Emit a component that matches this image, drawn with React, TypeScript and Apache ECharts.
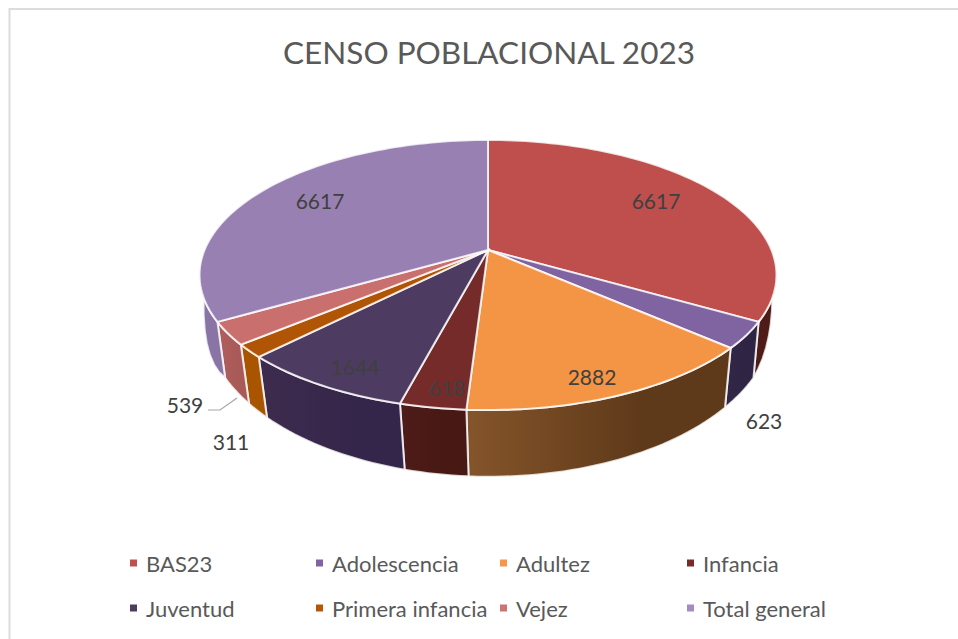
import React, { useEffect, useRef } from "react";
import * as echarts from "echarts";

const titleText = "CENSO POBLACIONAL 2023";
const categories = ["BAS23", "Adolescencia", "Adultez", "Infancia", "Juventud", "Primera infancia", "Vejez", "Total general"];
const values = [6617, 623, 2882, 618, 1644, 311, 539, 6617];
const topColors = ["#be4f4c", "#8064a2", "#f49445", "#752b2a", "#4d3b62", "#b05405", "#c96f6d", "#9880b2"];
const legendColors = ["#c0504d", "#8064a2", "#f79646", "#772c2a", "#4d3b62", "#b65708", "#cd7371", "#a28cc0"];
const wallLeft = ["#4e1b19", "#332747", "#85552a", "#4e1c19", "#3e2c4e", "#a85400", "#b05f5e", "#8a74a6"];
const wallRight = ["#4e1b19", "#2f2444", "#5f3a1a", "#481815", "#34264a", "#a85400", "#a85958", "#8a74a6"];
const labelPoints: number[][] = [[656, 200], [764, 420], [592, 376], [447, 387], [355, 366], [231, 441], [185, 404], [320, 200]];
const legendPoints: number[][] = [[130, 552], [316, 552], [500, 552], [687, 552], [130, 597], [316, 597], [500, 597], [687, 597]];

const total = values.reduce((a, b) => a + b, 0);
const startAngles: number[] = [];
values.reduce((acc, v, i) => {
  startAngles[i] = (acc / total) * 360;
  return acc + v;
}, 0);

const rad = (d: number) => (d * Math.PI) / 180;

function project(deg: number, r: number, x0: number, y0: number, a: number, b: number, k: number) {
  const u = Math.sin(rad(deg)) * r;
  const v = -Math.cos(rad(deg)) * r;
  const w = 1 - k * v;
  return [x0 + (a * u) / w, y0 + (b * v) / w];
}
const topPt = (deg: number, r = 1) => project(deg, r, 488, 250, 283.5, 130.4, 0.1852);
const baseRaw = (deg: number) => project(deg, 1, 489.3, 295, 280.6, 152.7, 0.16);

const WALL_FROM = 110;
const WALL_TO = 250;
const TAPER_A = 120;
const TAPER_B = 240;
const CTRL_RIGHT = [772, 347];
const CTRL_LEFT = [202, 361];

function bez(p: number[], c: number[], q: number[], t: number) {
  const m = 1 - t;
  return [m * m * p[0] + 2 * m * t * c[0] + t * t * q[0], m * m * p[1] + 2 * m * t * c[1] + t * t * q[1]];
}
function basePt(deg: number) {
  if (deg < TAPER_A) {
    return bez(topPt(WALL_FROM), CTRL_RIGHT, baseRaw(TAPER_A), (deg - WALL_FROM) / (TAPER_A - WALL_FROM));
  }
  if (deg > TAPER_B) {
    return bez(topPt(WALL_TO), CTRL_LEFT, baseRaw(TAPER_B), (WALL_TO - deg) / (WALL_TO - TAPER_B));
  }
  return baseRaw(deg);
}

function arcDegrees(a: number, b: number) {
  const out: number[] = [];
  const n = Math.max(2, Math.ceil((b - a) / 1.5));
  for (let i = 0; i <= n; i++) out.push(a + ((b - a) * i) / n);
  return out;
}

const BORDER = "rgba(255,255,255,0.8)";

function renderSlice(i: number) {
  return () => {
    const s = startAngles[i];
    const e = s + (values[i] / total) * 360;
    const children: any[] = [];
    const ws = Math.max(s, WALL_FROM);
    const we = Math.min(e, WALL_TO);
    if (we > ws) {
      const degs = arcDegrees(ws, we);
      const pts = [...degs.map((d) => topPt(d)), ...degs.slice().reverse().map((d) => basePt(d))];
      children.push({
        type: "polygon",
        shape: { points: pts },
        style: {
          fill: {
            type: "linear",
            x: 0,
            y: 0,
            x2: 1,
            y2: 0,
            colorStops: [
              { offset: 0, color: wallLeft[i] },
              { offset: 0.65, color: wallRight[i] },
              { offset: 1, color: wallRight[i] },
            ],
          },
          stroke: BORDER,
          lineWidth: 2,
        },
      });
    }
    const topPts = [topPt(0, 0), ...arcDegrees(s, e).map((d) => topPt(d))];
    children.push({
      type: "polygon",
      shape: { points: topPts },
      style: { fill: topColors[i], stroke: BORDER, lineWidth: 2 },
    });
    children.push({
      type: "text",
      z2: 20,
      style: {
        text: String(values[i]),
        x: labelPoints[i][0],
        y: labelPoints[i][1],
        fill: "#404040",
        font: "21px Lato",
        align: "center",
        verticalAlign: "middle",
      },
    });
    return { type: "group", children };
  };
}

export default function App() {
  const ref = useRef<HTMLDivElement>(null);
  useEffect(() => {
    const chart = echarts.init(ref.current!, undefined, { renderer: "svg" });
    chart.setOption({
      animation: false,
      backgroundColor: "#ffffff",
      title: {
        text: titleText,
        left: 484,
        top: 31,
        textAlign: "center",
        textStyle: { fontFamily: "Lato", fontSize: 31.5, fontWeight: "normal", color: "#595959" },
      },
      legend: categories.map((name, i) => ({
        data: [name],
        left: legendPoints[i][0],
        top: legendPoints[i][1],
        icon: "rect",
        itemWidth: 7,
        itemHeight: 7,
        itemGap: 0,
        padding: 0,
        selectedMode: false,
        textStyle: { fontFamily: "Lato", fontSize: 22, color: "#595959", padding: [0, 0, 0, 4] },
      })),
      graphic: [
        {
          type: "polyline",
          shape: { points: [[9.5, 639], [9.5, 9], [958, 9]] },
          style: { fill: "none", stroke: "#dcdcdc", lineWidth: 2 },
          silent: true,
        },
        {
          type: "polyline",
          z: 10,
          shape: { points: [[208, 410], [220, 410], [237, 398]] },
          style: { fill: "none", stroke: "#a6a6a6", lineWidth: 1.2 },
          silent: true,
        },
      ],
      series: categories.map((name, i) => ({
        type: "custom",
        name,
        coordinateSystem: "none",
        itemStyle: { color: legendColors[i] },
        data: [values[i]],
        renderItem: renderSlice(i),
      })),
    });
    return () => chart.dispose();
  }, []);
  return <div ref={ref} style={{ position: "fixed", left: 0, top: 0, width: 958, height: 639 }} />;
}
